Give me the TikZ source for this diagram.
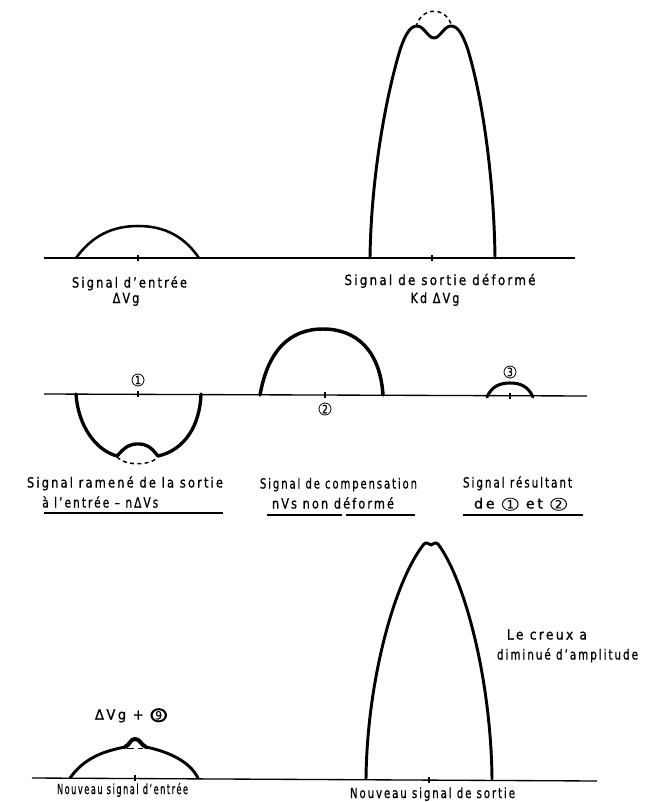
\documentclass[tikz,border=0pt]{standalone}
\usepackage{fontspec}
\usepackage{graphicx}
\setmainfont{DejaVu Sans}[FakeStretch=0.8,LetterSpace=15,FakeBold=0.8]
\newfontfamily\dv{DejaVu Sans}
\newlength\pxu \setlength\pxu{0.75pt}
\newcommand\lab[2]{\resizebox{#1\pxu}{\height}{#2}}
\newcommand\cn[2][0.6pt]{\tikz[baseline=-3.2pt,x=1pt,y=1pt]{\draw[line width=#1] (0,0) circle (4.6pt); \node[anchor=center,inner sep=0pt,font=\fontsize{8.5}{9}\selectfont] at (0,0) {#2};}}
\tikzset{
  baseln/.style={line width=1pt},
  sig/.style={line width=2.2pt, line join=round, line cap=round},
  dsh/.style={line width=1.1pt, dash pattern=on 3pt off 2.5pt},
  tickm/.style={line width=1pt},
  lbl/.style={anchor=base, inner sep=0pt, font=\fontsize{10.5}{12}\selectfont},
  num/.style={circle, draw, line width=0.6pt, inner sep=0pt, minimum size=9pt, font=\fontsize{8.5}{9}\selectfont}
}
\begin{document}
\begin{tikzpicture}[x=0.75pt,y=-0.75pt]
\useasboundingbox (0,0) rectangle (651,802);

% ---------------- top row ----------------
\draw[baseln] (44,258) -- (575,258);
\draw[tickm] (138,255) -- (138,261);
\draw[tickm] (432,255) -- (432,261);
% input signal
\draw[sig,line width=1.9pt] (76,258) .. controls (92,236) and (112,226) .. (138,226) .. controls (164,226) and (184,236) .. (199,258);
% deformed output
\draw[sig] (370,258) .. controls (371,180) and (385,100) .. (400,50) .. controls (405,35) and (410,26) .. (417,26)
  .. controls (424,26) and (428,38) .. (434,38) .. controls (440,38) and (444,26) .. (451,26)
  .. controls (458,26) and (463,35) .. (468,50) .. controls (483,100) and (494,180) .. (495,258);
\draw[dsh] (416,27) .. controls (421,6) and (447,6) .. (452,27);

\node[lbl] (lin1) at (129.5,287.5) {\lab{115}{Signal d'entrée}};
\node[lbl] (lin2) at (126,303) {ΔVg};
\node[lbl] (lout1) at (440,285) {\lab{191}{Signal de sortie déformé}};
\node[lbl] (lout2) at (435,303) {Kd ΔVg};

% ---------------- middle row ----------------
\draw[baseln] (44,394) -- (587,396);
\draw[tickm] (138,391) -- (138,397);
\draw[tickm] (325,392) -- (325,398);
\draw[tickm] (510,393) -- (510,399);
% fed back signal (negative)
\draw[sig,line width=2.5pt] (76,394) .. controls (78,425) and (95,450) .. (117,456)
  .. controls (126,446) and (130,444) .. (138,444) .. controls (146,444) and (150,446) .. (158,456)
  .. controls (185,450) and (200,425) .. (201,394);
\draw[dsh] (117,457) .. controls (125,466) and (150,466) .. (158,457);
% compensation signal
\draw[sig,line width=2.6pt] (260,395) .. controls (268,350) and (290,329) .. (323,329) .. controls (356,329) and (380,350) .. (383,395);
% resulting signal
\draw[sig,line width=2.3pt] (487,397) .. controls (492,386) and (500,383) .. (510,383) .. controls (520,383) and (528,386) .. (533,397);

\node[num] (n1) at (138,380) {1};
\node[num] (n2) at (325,409) {2};
\node[num] (n3) at (510,372) {3};

\node[lbl] (lr1) at (125,487.5) {\lab{196}{Signal ramené de la sortie}};
\node[lbl,anchor=base west] (lr2) at (42,507.5) {\lab{116}{à l'entrée – nΔVs}};
\draw[baseln] (44,513) -- (223,513);
\node[lbl] (lc1) at (338.5,488.5) {\lab{157}{Signal de compensation}};
\node[lbl] (lc2) at (333,508.5) {\lab{122}{nVs non déformé}};
\draw[baseln] (267,515) -- (342,515);
\draw[baseln] (346,515) -- (415,515);
\node[lbl] (ls1) at (517.5,487.5) {\lab{109}{Signal résultant}};
\node[lbl] (ls2) at (520.5,508.5) {\lab{93}{de \cn{1} et \cn{2}}};
\draw[baseln] (463,515) -- (583,515);

% ---------------- bottom row ----------------
\draw[baseln] (32,778) -- (597,781);
\draw[tickm] (135,775) -- (135,781);
\draw[tickm] (429,777) -- (429,783);
% new input signal
\draw[sig] (70,778) .. controls (85,757) and (105,751) .. (125,747);
\draw[sig,line width=3pt] (125,747) .. controls (130,745) and (130,739) .. (135,739) .. controls (140,739) and (141,745) .. (146,747);
\draw[sig] (146,747) .. controls (170,752) and (190,762) .. (198,778);
\draw[line width=1.1pt,dash pattern=on 5pt off 3pt] (127,748.5) -- (143,748.5);
% new output signal
\draw[sig] (366,779) .. controls (367,680) and (395,580) .. (424,544)
  .. controls (427,541) and (429,545) .. (431,545) .. controls (433,545) and (435,541) .. (438,544)
  .. controls (465,580) and (491,680) .. (492,779);

\node[lbl] (lb0) at (131,719.5) {\lab{72}{ΔVg + \cn[1.4pt]{9}}};
\node[lbl] (lb1) at (122.5,794) {\lab{131}{Nouveau signal d'entrée}};
\node[lbl] (lb2) at (432.5,798) {\lab{165}{Nouveau signal de sortie}};
\node[lbl] (lb3) at (547,639.5) {\lab{80}{Le creux a}};
\node[lbl] (lb4) at (567.5,659.5) {\lab{141}{diminué d'amplitude}};
\end{tikzpicture}
\end{document}
